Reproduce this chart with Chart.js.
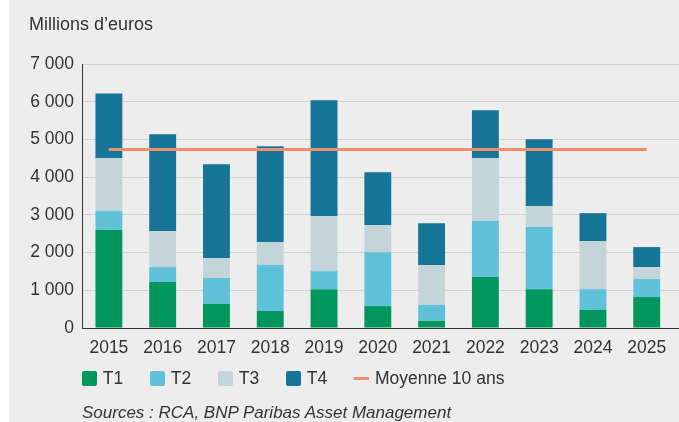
<!DOCTYPE html>
<html>
<head>
<meta charset="utf-8">
<script src="https://cdn.jsdelivr.net/npm/chart.js@4/dist/chart.umd.min.js"></script>
<style>
  html, body { margin: 0; padding: 0; background: #ffffff; }
  #wrap { position: relative; width: 679px; height: 422px; overflow: hidden; }
  #panel { position: absolute; left: 9px; top: 0; width: 670px; height: 422px; background: #ededed; }
  #c { position: absolute; left: 0; top: 0; }
  .txt { position: absolute; font-family: "Liberation Sans", Arial, sans-serif; color: #333333; white-space: nowrap; line-height: 20px; }
  #title { left: 29px; top: 14px; font-size: 18px; }
  #sources { left: 82px; top: 402.7px; font-size: 17px; font-style: italic; }
  .lg-box { position: absolute; width: 15px; height: 15px; border-radius: 2px; top: 370.7px; }
  .lg-line { position: absolute; width: 15px; height: 3px; top: 376.8px; }
  .lg-text { top: 368.3px; font-size: 17.5px; }
</style>
</head>
<body>
<div id="wrap">
  <div id="panel"></div>
  <canvas id="c" width="679" height="422"></canvas>
  <div class="txt" id="title">Millions d’euros</div>
  <div id="legend"></div>
  <div class="txt" id="sources">Sources : RCA, BNP Paribas Asset Management</div>
</div>
<script>
const categories = ['2015','2016','2017','2018','2019','2020','2021','2022','2023','2024','2025'];
const t1 = [2600, 1220, 640, 450, 1030, 580, 190, 1350, 1030, 480, 820];
const t2 = [500, 395, 685, 1220, 480, 1430, 420, 1485, 1645, 550, 480];
const t3 = [1400, 955, 530, 610, 1455, 720, 1060, 1665, 555, 1275, 315];
const t4 = [1720, 2570, 2490, 2540, 3075, 1400, 1110, 1275, 1775, 740, 530];
const average = 4730;
const yTickLabels = ['0', '1 000', '2 000', '3 000', '4 000', '5 000', '6 000', '7 000'];
const seriesNames = ['T1', 'T2', 'T3', 'T4', 'Moyenne 10 ans'];
const colors = ['#00965e', '#60c2d8', '#c3d5d9', '#167496', '#f08f6b'];

const FONT = '"Liberation Sans", Arial, sans-serif';

const barSets = [t1, t2, t3, t4].map((d, i) => ({
  type: 'bar',
  label: seriesNames[i],
  data: d,
  backgroundColor: colors[i],
  borderWidth: 0,
  stack: 'q',
  barPercentage: 0.5,
  categoryPercentage: 1.0
}));

const lineSet = {
  type: 'line',
  label: seriesNames[4],
  data: categories.map(() => average),
  borderColor: colors[4],
  backgroundColor: colors[4],
  borderWidth: 3,
  pointRadius: 0,
  tension: 0,
  stack: 'avg',
  order: -1,
  borderCapStyle: 'butt'
};

new Chart(document.getElementById('c'), {
  data: { labels: categories, datasets: [...barSets, lineSet] },
  options: {
    responsive: false,
    animation: false,
    devicePixelRatio: 1,
    layout: { padding: { left: 0, top: 64, right: 0, bottom: 0 } },
    plugins: { legend: { display: false }, tooltip: { enabled: false } },
    scales: {
      x: {
        type: 'linear',
        offset: false,
        stacked: true,
        min: 2014.5,
        max: 2025.6,
        afterBuildTicks: (axis) => { axis.ticks = categories.map(c => ({ value: +c })); },
        afterFit: (s) => { s.height = 94; },
        grid: { display: false, drawTicks: false, offset: false },
        border: { display: true, color: '#333333', width: 1 },
        ticks: {
          autoSkip: false, maxRotation: 0, padding: 10,
          color: '#333333', font: { family: FONT, size: 17.5 },
          callback: (v, i) => categories[i]
        }
      },
      y: {
        stacked: true,
        min: 0,
        max: 7000,
        afterFit: (s) => { s.width = 82; },
        grid: { color: '#d2d2d2', lineWidth: 1, drawTicks: false },
        border: { display: true, color: '#333333', width: 1 },
        ticks: {
          stepSize: 1000, padding: 8,
          color: '#333333', font: { family: FONT, size: 17.5 },
          callback: (v, i) => yTickLabels[i]
        }
      }
    }
  }
});

// HTML legend built from the series names and colours
const lg = document.getElementById('legend');
seriesNames.forEach((name, i) => {
  const left = 82 + i * 68;
  const mark = document.createElement('div');
  mark.className = i < 4 ? 'lg-box' : 'lg-line';
  mark.style.left = left + 'px';
  mark.style.background = colors[i];
  lg.appendChild(mark);
  const t = document.createElement('div');
  t.className = 'txt lg-text';
  t.style.left = (left + (i < 4 ? 20.7 : 21)) + 'px';
  t.textContent = name;
  lg.appendChild(t);
});
</script>
</body>
</html>
